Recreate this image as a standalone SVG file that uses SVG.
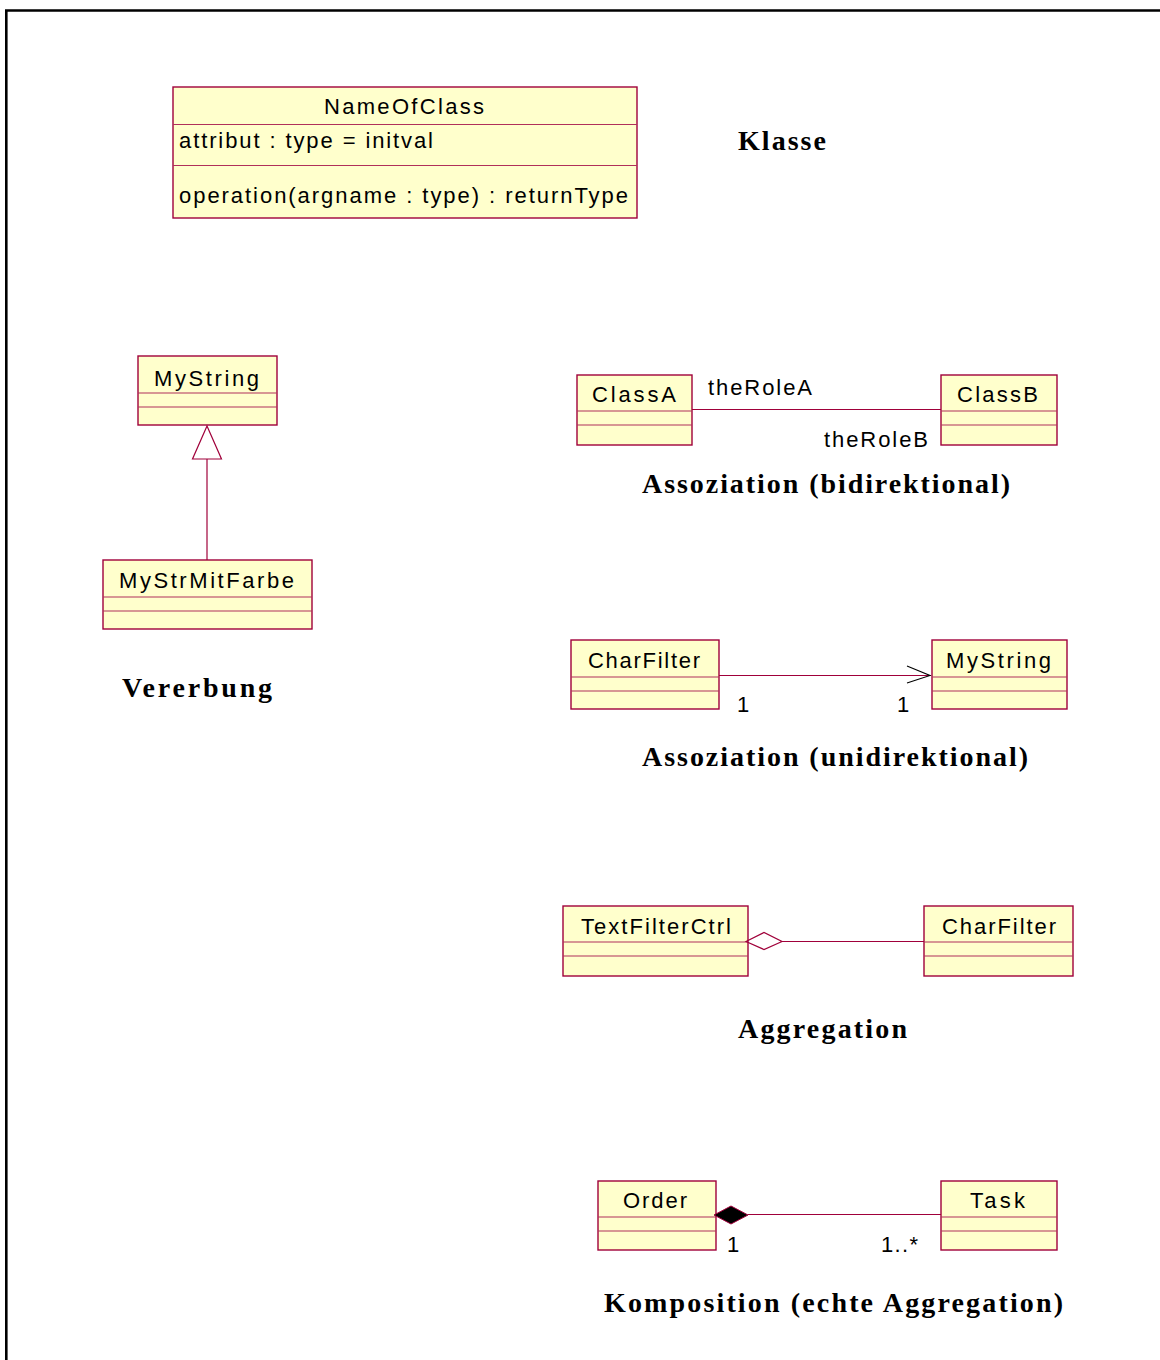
<svg xmlns="http://www.w3.org/2000/svg" width="1160" height="1360" viewBox="0 0 1160 1360">
  <style>
    .frame { fill: none; stroke: #000; stroke-width: 2.6; }
    .cls { fill: #FFFFCC; stroke: #A0003A; stroke-width: 1.4; }
    .sep { stroke: #B0305A; stroke-width: 1.2; }
    .conn { fill: none; stroke: #A0003A; stroke-width: 1.2; }
    .t { font-family: "Liberation Sans", Arial, sans-serif; font-size: 22px; fill: #000; }
    .title { font-family: "Liberation Serif", "Times New Roman", serif; font-size: 28px; font-weight: bold; fill: #000; }
  </style>

  <rect width="1160" height="1360" fill="#fff"/>
  <path class="frame" d="M6.3,1360 V10.5 H1160"/>

  <!-- Class notation -->
  <g id="NameOfClass">
    <rect class="cls" x="173" y="87" width="464" height="131"/>
    <line class="sep" x1="173" y1="124.5" x2="637" y2="124.5"/>
    <line class="sep" x1="173" y1="165.5" x2="637" y2="165.5"/>
    <text class="t" x="324" y="114" textLength="160" lengthAdjust="spacing">NameOfClass</text>
    <text class="t" x="179" y="148" textLength="254" lengthAdjust="spacing">attribut : type = initval</text>
    <text class="t" x="179" y="203" textLength="449" lengthAdjust="spacing">operation(argname : type) : returnType</text>
  </g>
  <text class="title" x="738" y="150" textLength="88" lengthAdjust="spacing">Klasse</text>

  <!-- Inheritance -->
  <g id="MyString">
    <rect class="cls" x="138" y="356" width="139" height="69"/>
    <line class="sep" x1="138" y1="393" x2="277" y2="393"/>
    <line class="sep" x1="138" y1="407" x2="277" y2="407"/>
    <text class="t" x="154" y="386" textLength="105" lengthAdjust="spacing">MyString</text>
  </g>
  <g id="MyStrMitFarbe">
    <rect class="cls" x="103" y="560" width="209" height="69"/>
    <line class="sep" x1="103" y1="597" x2="312" y2="597"/>
    <line class="sep" x1="103" y1="611" x2="312" y2="611"/>
    <text class="t" x="119" y="588" textLength="175" lengthAdjust="spacing">MyStrMitFarbe</text>
  </g>
  <text class="title" x="122" y="697" textLength="150" lengthAdjust="spacing">Vererbung</text>

  <!-- Bidirectional association -->
  <g id="ClassA">
    <rect class="cls" x="577" y="375" width="115" height="70"/>
    <line class="sep" x1="577" y1="411" x2="692" y2="411"/>
    <line class="sep" x1="577" y1="425" x2="692" y2="425"/>
    <text class="t" x="592" y="402" textLength="84" lengthAdjust="spacing">ClassA</text>
  </g>
  <g id="ClassB">
    <rect class="cls" x="941" y="375" width="116" height="70"/>
    <line class="sep" x1="941" y1="411" x2="1057" y2="411"/>
    <line class="sep" x1="941" y1="425" x2="1057" y2="425"/>
    <text class="t" x="957" y="402" textLength="81" lengthAdjust="spacing">ClassB</text>
  </g>
  <text class="title" x="642" y="493" textLength="368" lengthAdjust="spacing">Assoziation (bidirektional)</text>

  <!-- Unidirectional association -->
  <g id="CharFilter1">
    <rect class="cls" x="571" y="640" width="148" height="69"/>
    <line class="sep" x1="571" y1="677" x2="719" y2="677"/>
    <line class="sep" x1="571" y1="691" x2="719" y2="691"/>
    <text class="t" x="588" y="668" textLength="112" lengthAdjust="spacing">CharFilter</text>
  </g>
  <g id="MyString2">
    <rect class="cls" x="932" y="640" width="135" height="69"/>
    <line class="sep" x1="932" y1="677" x2="1067" y2="677"/>
    <line class="sep" x1="932" y1="691" x2="1067" y2="691"/>
    <text class="t" x="946" y="668" textLength="105" lengthAdjust="spacing">MyString</text>
  </g>
  <text class="title" x="642" y="766" textLength="386" lengthAdjust="spacing">Assoziation (unidirektional)</text>

  <!-- Aggregation -->
  <g id="TextFilterCtrl">
    <rect class="cls" x="563" y="906" width="185" height="70"/>
    <line class="sep" x1="563" y1="942" x2="748" y2="942"/>
    <line class="sep" x1="563" y1="956" x2="748" y2="956"/>
    <text class="t" x="581" y="934" textLength="150" lengthAdjust="spacing">TextFilterCtrl</text>
  </g>
  <g id="CharFilter2">
    <rect class="cls" x="924" y="906" width="149" height="70"/>
    <line class="sep" x1="924" y1="942" x2="1073" y2="942"/>
    <line class="sep" x1="924" y1="956" x2="1073" y2="956"/>
    <text class="t" x="942" y="934" textLength="114" lengthAdjust="spacing">CharFilter</text>
  </g>
  <text class="title" x="738" y="1038" textLength="169" lengthAdjust="spacing">Aggregation</text>

  <!-- Composition -->
  <g id="Order">
    <rect class="cls" x="598" y="1181" width="118" height="69"/>
    <line class="sep" x1="598" y1="1217" x2="716" y2="1217"/>
    <line class="sep" x1="598" y1="1231" x2="716" y2="1231"/>
    <text class="t" x="623" y="1208" textLength="64" lengthAdjust="spacing">Order</text>
  </g>
  <g id="Task">
    <rect class="cls" x="941" y="1181" width="116" height="69"/>
    <line class="sep" x1="941" y1="1217" x2="1057" y2="1217"/>
    <line class="sep" x1="941" y1="1231" x2="1057" y2="1231"/>
    <text class="t" x="970" y="1208" textLength="55" lengthAdjust="spacing">Task</text>
  </g>
  <text class="title" x="604" y="1312" textLength="459" lengthAdjust="spacing">Komposition (echte Aggregation)</text>

  <!-- Connectors -->
  <g id="connectors">
    <!-- generalization -->
    <line class="conn" x1="207" y1="459" x2="207" y2="560"/>
    <polygon class="conn" fill="#fff" points="207,426 192.5,459 221.5,459"/>

    <!-- bidirectional association -->
    <line class="conn" x1="692" y1="409.5" x2="941" y2="409.5"/>
    <text class="t" x="708" y="395" textLength="104" lengthAdjust="spacing">theRoleA</text>
    <text class="t" x="824" y="447" textLength="104" lengthAdjust="spacing">theRoleB</text>

    <!-- unidirectional association -->
    <line class="conn" x1="719" y1="675.5" x2="931" y2="675.5"/>
    <polyline fill="none" stroke="#000" stroke-width="1.1" points="907,666 930,675.5 907,683"/>
    <text class="t" x="737" y="712">1</text>
    <text class="t" x="897" y="712">1</text>

    <!-- aggregation -->
    <line class="conn" x1="782" y1="941.5" x2="924" y2="941.5"/>
    <polygon class="conn" fill="#fff" points="746,941.5 764,932.5 782,941.5 764,949.5"/>

    <!-- composition -->
    <line class="conn" x1="748" y1="1214.5" x2="941" y2="1214.5"/>
    <polygon fill="#000" stroke="#A0003A" stroke-width="1" points="714,1215 731,1206 748,1215 731,1224"/>
    <text class="t" x="727" y="1252">1</text>
    <text class="t" x="881" y="1252" textLength="37" lengthAdjust="spacing">1..*</text>
  </g>
</svg>
